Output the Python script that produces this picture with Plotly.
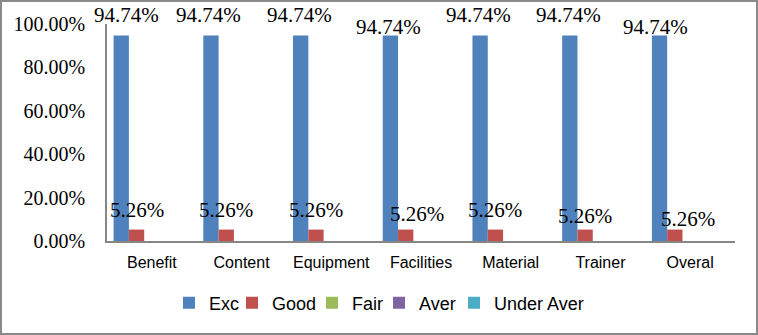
import plotly.graph_objects as go

categories = ["Benefit", "Content", "Equipment", "Facilities", "Material", "Trainer", "Overal"]
series_names = ["Exc", "Good", "Fair", "Aver", "Under Aver"]
exc = [0.9474, 0.9474, 0.9474, 0.9474, 0.9474, 0.9474, 0.9474]
good = [0.0526, 0.0526, 0.0526, 0.0526, 0.0526, 0.0526, 0.0526]
fair = [0, 0, 0, 0, 0, 0, 0]
aver = [0, 0, 0, 0, 0, 0, 0]
under_aver = [0, 0, 0, 0, 0, 0, 0]
y_ticks = [0, 0.2, 0.4, 0.6, 0.8, 1.0]

series_values = [exc, good, fair, aver, under_aver]
colors = ["#4F81BD", "#C0504D", "#9BBB59", "#8064A2", "#4BACC6"]
legend_widths = [18, 35, 22, 30, 95]

W, H = 758, 335
ML, MR, MT, MB = 107, 23, 24, 94
PW, PH = W - ML - MR, H - MT - MB
BARGAP = 0.147

# label nudges (px) for data labels: (dx, dy) per category, for Exc and Good labels
exc_nudge = [(5, 0), (-2, 0), (-1, 0), (-2, 12), (-2, 0), (-1, 0), (-4, 12)]
good_nudge = [(0, 0), (0, 0), (0, 0), (11, 4), (0, 0), (0, 6), (13, 9)]

fig = go.Figure()
for name, vals, col, lw in zip(series_names, series_values, colors, legend_widths):
    fig.add_trace(go.Bar(
        name=name, x=categories, y=vals, marker=dict(color=col, line=dict(width=0)),
        legendwidth=lw,
    ))

annotations = []
nseries = len(series_names)
group_w = 1 - BARGAP
for k, (vals, nudges) in enumerate([(exc, exc_nudge), (good, good_nudge)]):
    for i, v in enumerate(vals):
        xc = i - group_w / 2 + (k + 0.5) * group_w / nseries
        dx, dy = nudges[i]
        annotations.append(dict(
            x=xc, y=v, xref="x", yref="y", text=f"{v:.2%}", showarrow=False,
            xanchor="center", yanchor="middle", xshift=dx, yshift=20 - dy,
            font=dict(family="Liberation Serif, Times New Roman, serif", size=21, color="#000000"),
        ))

fig.update_layout(
    width=W, height=H,
    margin=dict(l=ML, r=MR, t=MT, b=MB, pad=0),
    paper_bgcolor="white", plot_bgcolor="white",
    barmode="group", bargap=BARGAP, bargroupgap=0,
    annotations=annotations,
    showlegend=True,
    legend=dict(
        orientation="h", x=(169 - ML) / PW, xanchor="left",
        y=-(303 - (MT + PH)) / PH, yanchor="middle",
        font=dict(family="Liberation Sans, Arial, sans-serif", size=18, color="#000000"),
        bgcolor="rgba(0,0,0,0)", traceorder="normal",
    ),
    xaxis=dict(
        type="category", range=[-0.5, len(categories) - 0.5],
        showgrid=False, zeroline=False,
        showline=True, linecolor="#868686", linewidth=1.5,
        ticks="", ticklabelstandoff=6,
        tickfont=dict(family="Liberation Sans, Arial, sans-serif", size=16, color="#000000"),
        fixedrange=True,
    ),
    yaxis=dict(
        range=[0, 1], tickvals=y_ticks, tickformat=".2%",
        showgrid=False, zeroline=False,
        showline=True, linecolor="#868686", linewidth=1.5,
        ticks="", ticklabelstandoff=16,
        tickfont=dict(family="Liberation Serif, Times New Roman, serif", size=20, color="#000000"),
        fixedrange=True,
    ),
    shapes=[dict(
        type="rect", xref="paper", yref="paper",
        x0=-ML / PW, x1=1 + MR / PW, y0=-MB / PH, y1=1 + MT / PH,
        line=dict(color="#8A8A8A", width=4), fillcolor="rgba(0,0,0,0)", layer="above",
    )],
)

fig.write_html("out.html", config={"displayModeBar": False})
